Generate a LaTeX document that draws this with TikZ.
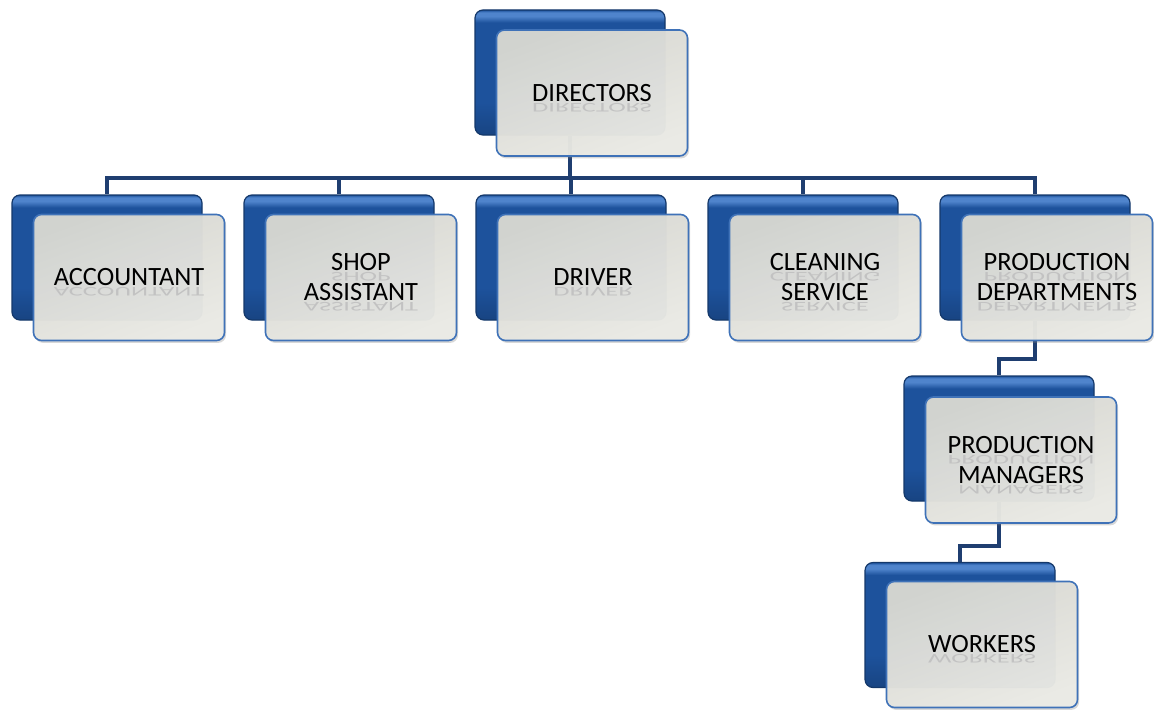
\documentclass[tikz,border=0pt]{standalone}
\usepackage{fontspec}
\usepackage{graphicx}
\setmainfont{Carlito}
\usetikzlibrary{shadows}

\definecolor{backblue}{HTML}{1D529C}
\definecolor{backdark}{HTML}{184482}
\definecolor{backlight}{HTML}{4F84CC}
\definecolor{backedge}{HTML}{14386A}
\definecolor{faceedge}{HTML}{3F72B8}
\definecolor{facetop}{HTML}{D8D8D2}
\definecolor{facebot}{HTML}{EBEBE6}
\definecolor{linkblue}{HTML}{1F3E70}

% glossy blue, thin light strip along the top
\pgfdeclareverticalshading{backshade}{100bp}{
  color(0bp)=(backdark); color(25bp)=(backdark); color(38bp)=(backblue);
  color(70bp)=(backblue); color(72.5bp)=(backlight); color(74bp)=(backlight);
  color(75bp)=(backblue); color(100bp)=(backblue)}

% text with a faint mirrored copy under it
\newcommand{\refl}[1]{\rlap{\smash{\raisebox{-0.06em}{\scalebox{1}[-0.5]{\color{black!24}#1}}}}#1}

\tikzset{
  backbox/.style={draw=backedge, line width=0.6pt, rounded corners=4pt,
    minimum width=95pt, minimum height=62.5pt, shading=backshade},
  facebox/.style={draw=faceedge, line width=0.8pt, rounded corners=4pt,
    minimum width=95.5pt, minimum height=63pt,
    top color=facetop, bottom color=facebot, shading angle=20,
    fill opacity=0.96, text opacity=1,
    drop shadow={opacity=0.3, shadow xshift=0.8pt, shadow yshift=-1.2pt},
    align=center, font=\fontsize{13.2}{15}\selectfont},
  link/.style={draw=linkblue, line width=2pt},
}

\begin{document}
\begin{tikzpicture}[x=0.5pt, y=0.5pt]
\fill[white] (0,0) rectangle (1154,709);
\useasboundingbox (0,0) rectangle (1154,709);

% Blue backs
\node[backbox] (dirB) at (570,636.5) {};
\node[backbox] (accB) at (107,451.5) {};
\node[backbox] (shopB) at (339,451.5) {};
\node[backbox] (drvB) at (571,451.5) {};
\node[backbox] (cleanB) at (803,451.5) {};
\node[backbox] (prodB) at (1035,451.5) {};
\node[backbox] (pmB) at (999,270.5) {};
\node[backbox] (wrkB) at (960,84) {};

% Links
\coordinate (bus) at (570,531);
\draw[link] (dirB.south) -- (bus) -| (accB.north);
\draw[link] (dirB.south) -- (bus) -| (shopB.north);
\draw[link] (dirB.south) -- (bus) -| (drvB.north);
\draw[link] (dirB.south) -- (bus) -| (cleanB.north);
\draw[link] (dirB.south) -- (bus) -| (prodB.north);
\draw[link] (prodB.south) -- ++(0,-38) -| (pmB.north);
\draw[link] (pmB.south) -- ++(0,-44) -| (wrkB.north);

% Gray faces with labels
\node[facebox] (dir) at (592,616) {\refl{DIRECTORS}};
\node[facebox] (acc) at (129,431.5) {\refl{ACCOUNTANT}};
\node[facebox] (shop) at (361,431.5) {\refl{SHOP}\\\refl{ASSISTANT}};
\node[facebox] (drv) at (593,431.5) {\refl{DRIVER}};
\node[facebox] (clean) at (825,431.5) {\refl{CLEANING}\\\refl{SERVICE}};
\node[facebox] (prod) at (1057,431.5) {\refl{PRODUCTION}\\\refl{DEPARTMENTS}};
\node[facebox] (pm) at (1021,249) {\refl{PRODUCTION}\\\refl{MANAGERS}};
\node[facebox] (wrk) at (982,64.5) {\refl{WORKERS}};

\end{tikzpicture}
\end{document}
